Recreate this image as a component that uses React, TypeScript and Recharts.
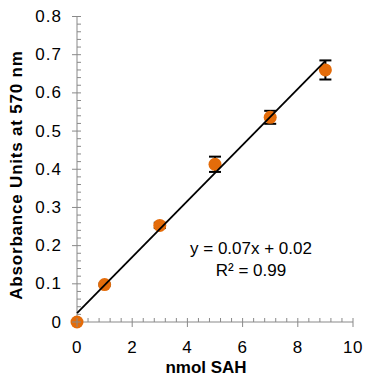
import React from "react";
import { ComposedChart, Scatter, ErrorBar, XAxis, YAxis } from "recharts";

// measured points (nmol SAH vs absorbance at 570 nm)
const nmolSAH = [0, 1, 3, 5, 7, 9];
const absorbance = [0, 0.098, 0.253, 0.413, 0.536, 0.66];
const absError = [0, 0.003, 0.007, 0.02, 0.017, 0.025];

// linear trendline endpoints
const trendX = [0, 9];
const trendY = [0.023, 0.684];

const xMajorTicks = [0, 2, 4, 6, 8, 10];
const yMajorTicks = [0, 0.1, 0.2, 0.3, 0.4, 0.5, 0.6, 0.7, 0.8];
const xMinorStep = 0.4;
const yMinorStep = 0.02;

const equationText = "y = 0.07x + 0.02";
const r2Text = "R² = 0.99";

const AXIS = "#898989";
const ORANGE = "#E46C0A";
const FONT = "'Liberation Sans', Arial, sans-serif";

const points = nmolSAH.map((x, i) => ({ x, y: absorbance[i], err: absError[i] }));
const trend = trendX.map((x, i) => ({ x, y: trendY[i] }));

const stepTicks = (max: number, step: number) =>
  Array.from({ length: Math.round(max / step) + 1 }, (_, i) => +(i * step).toFixed(4));

const isMajor = (v: number, majors: number[]) => majors.some((m) => Math.abs(m - v) < 1e-6);

const XTick = (props: any) => {
  const { x, y, payload } = props;
  const major = isMajor(payload.value, xMajorTicks);
  return (
    <g>
      <line x1={x} x2={x} y1={y - 4} y2={major ? y + 5 : y} stroke={AXIS} strokeWidth={1} />
      {major && (
        <text x={x} y={y + 25} textAnchor="middle" dominantBaseline="central"
          fontFamily={FONT} fontSize={17} letterSpacing={0.6} fill="#000">
          {payload.value}
        </text>
      )}
    </g>
  );
};

const YTick = (props: any) => {
  const { x, y, payload } = props;
  const major = isMajor(payload.value, yMajorTicks);
  return (
    <g>
      <line x1={major ? x - 5 : x} x2={x + 4} y1={y} y2={y} stroke={AXIS} strokeWidth={1} />
      {major && (
        <text x={x - 15} y={y} textAnchor="end" dominantBaseline="central"
          fontFamily={FONT} fontSize={17} letterSpacing={1} fill="#000">
          {Number(payload.value.toFixed(1)).toString()}
        </text>
      )}
    </g>
  );
};

const Dot = (props: any) => {
  const { cx, cy } = props;
  return <circle cx={cx} cy={cy} r={6.5} fill={ORANGE} />;
};

export default function App() {
  return (
    <div style={{ position: "absolute", left: 0, top: 0, width: 365, height: 378, background: "#fff" }}>
      <ComposedChart width={365} height={378} margin={{ top: 16.5, right: 12, left: 0, bottom: 0 }}>
        <XAxis
          type="number"
          dataKey="x"
          domain={[0, 10]}
          ticks={stepTicks(10, xMinorStep)}
          interval={0}
          height={56}
          stroke={AXIS}
          tickLine={false}
          tickSize={0}
          tickMargin={0}
          tick={<XTick />}
        />
        <YAxis
          type="number"
          dataKey="y"
          domain={[0, 0.8]}
          ticks={stepTicks(0.8, yMinorStep)}
          interval={0}
          width={77}
          stroke={AXIS}
          tickLine={false}
          tickSize={0}
          tickMargin={0}
          tick={<YTick />}
        />
        <Scatter data={points} shape={<Dot />} isAnimationActive={false}>
          <ErrorBar dataKey="err" direction="y" width={6} stroke="#000" strokeWidth={2} />
        </Scatter>
        <Scatter
          data={trend}
          line={{ stroke: "#000", strokeWidth: 1.8 }}
          shape={() => null}
          isAnimationActive={false}
        />
      </ComposedChart>

      {/* axis titles and trendline equation */}
      <div style={{ position: "absolute", left: 156, top: 358, width: 100, textAlign: "center",
        fontFamily: FONT, fontWeight: 700, fontSize: 17, lineHeight: "20px", whiteSpace: "nowrap" }}>
        nmol SAH
      </div>
      <div style={{ position: "absolute", left: 17, top: 175, width: 0, height: 0 }}>
        <div style={{ position: "absolute", left: 0, top: 0, transform: "translate(-50%, -50%) rotate(-90deg)",
          whiteSpace: "nowrap", fontFamily: FONT, fontWeight: 700, fontSize: 17, letterSpacing: 0.8,
          lineHeight: "20px" }}>
          Absorbance Units at 570 nm
        </div>
      </div>
      <div style={{ position: "absolute", left: 166, top: 238, width: 170, textAlign: "center",
        fontFamily: FONT, fontSize: 17, lineHeight: "22px" }}>
        <div>{equationText}</div>
        <div>{r2Text}</div>
      </div>
    </div>
  );
}
